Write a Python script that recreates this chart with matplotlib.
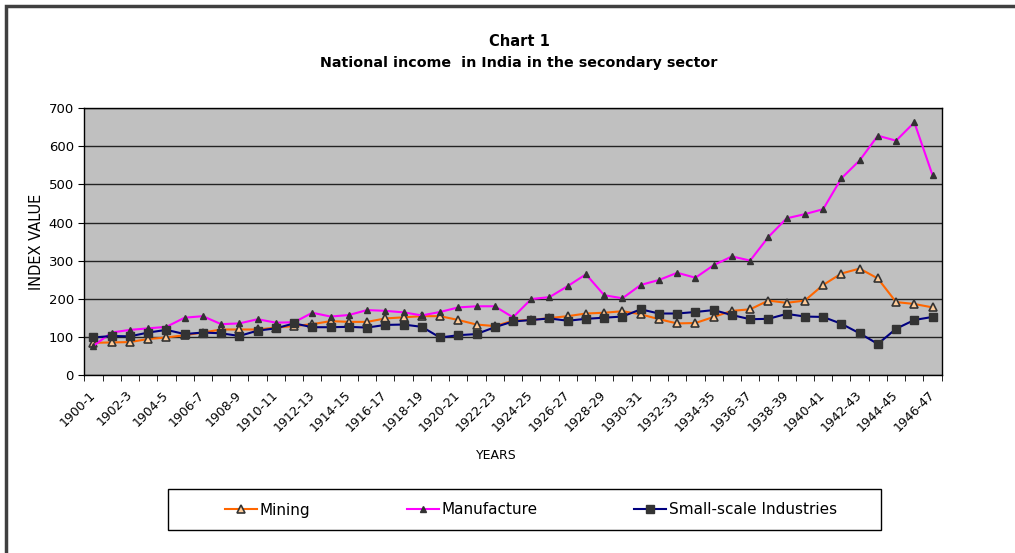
import numpy as np
import matplotlib.pyplot as plt
from matplotlib.patches import Rectangle
from matplotlib.transforms import ScaledTranslation

plt.rcParams['font.family'] = ['DejaVu Sans']

# Datos
anios = [f"{a}-{(a + 1) % 100}" for a in range(1900, 1947)]

mineria = [84, 85, 86, 94, 98, 104, 111, 119, 119, 119, 124, 128, 133, 141, 139, 139,
           148, 151, 154, 154, 144, 132, 128, 142, 144, 149, 154, 161, 163, 167, 159, 146,
           135, 136, 152, 168, 172, 195, 189, 195, 236, 266, 279, 253, 191, 186, 177]

manufactura = [76, 111, 118, 122, 126, 150, 154, 133, 135, 146, 137, 138, 163, 153, 157, 170,
               168, 164, 156, 165, 177, 180, 180, 151, 199, 204, 233, 264, 209, 201, 236, 249,
               268, 255, 288, 311, 300, 362, 411, 422, 435, 516, 563, 628, 615, 663, 524]

pequena_escala = [98, 102, 101, 111, 118, 107, 111, 109, 102, 116, 122, 135, 125, 125, 126, 124,
                  131, 132, 126, 98, 104, 107, 125, 140, 144, 148, 142, 147, 150, 153, 172, 161,
                  161, 165, 170, 157, 146, 147, 160, 153, 152, 134, 109, 81, 121, 144, 152]

fig = plt.figure(figsize=(10.15, 5.53), dpi=100)

# Marco exterior del grafico
fig.patches.append(Rectangle((6 / 1015, -0.1), 1.2, 1 - 6 / 553 + 0.1, transform=fig.transFigure,
                             fill=False, edgecolor='#404040', linewidth=2.5))

ax = fig.add_axes([84.3 / 1015, 1 - 374.8 / 553, (941.7 - 84.3) / 1015, (374.8 - 108.3) / 553])
ax.set_facecolor('#C0C0C0')

x = np.arange(len(anios))
ax.plot(x, mineria, color='#FF6600', lw=1.5, marker='^', ms=5.5, mfc='#FFCC99',
        mec='#333333', mew=1.2, label='Mining')
ax.plot(x, manufactura, color='#FF00FF', lw=1.5, marker='^', ms=4, mfc='#333333',
        mec='#333333', label='Manufacture')
ax.plot(x, pequena_escala, color='#000080', lw=1.5, marker='s', ms=6, mfc='#333333',
        mec='#333333', label='Small-scale Industries')

ax.set_xlim(-0.5, len(anios) - 0.5)
ax.set_ylim(0, 700)
ax.set_yticks(range(0, 701, 100))
ax.yaxis.grid(True, color='#222222', lw=1)
ax.set_axisbelow(True)

ax.set_xticks(x[::2])
ax.set_xticklabels(anios[::2], rotation=45, ha='right', va='center',
                   rotation_mode='anchor', fontsize=9)
desplazamiento = ScaledTranslation(-7 / 100, 0, fig.dpi_scale_trans)
for etiqueta in ax.get_xticklabels():
    etiqueta.set_transform(etiqueta.get_transform() + desplazamiento)
ax.set_xticks(np.arange(-0.5, len(anios), 1), minor=True)
ax.tick_params(axis='x', which='major', length=0, pad=13)
ax.tick_params(axis='x', which='minor', length=4, direction='out', color='black')
ax.tick_params(axis='y', length=4, direction='out', labelsize=9.5)
for s in ax.spines.values():
    s.set_color('black')
    s.set_linewidth(1)

ax.set_xlabel('YEARS', fontsize=9, va='center')
ax.xaxis.set_label_coords(0.481, -0.301)
ax.set_ylabel('INDEX VALUE', fontsize=10.5, va='center')
ax.yaxis.set_label_coords(-0.0552, 0.498)

fig.text(519 / 1015, 1 - 41 / 553, 'Chart 1', ha='center', va='center',
         fontsize=10.5, fontweight='bold')
fig.text(519 / 1015, 1 - 63 / 553, 'National income  in India in the secondary sector',
         ha='center', va='center', fontsize=10.3, fontweight='bold')

# Caja de la leyenda
fig.patches.append(Rectangle((168 / 1015, 1 - 530 / 553), (881 - 168) / 1015, 41 / 553,
                             transform=fig.transFigure, fill=False, edgecolor='black', lw=1))
fig.legend(loc='center', ncol=3, fontsize=11, frameon=False,
           bbox_to_anchor=(531 / 1015, 1 - 510 / 553), bbox_transform=fig.transFigure,
           handlelength=2.1, handletextpad=0.2, columnspacing=6.3)

plt.savefig('out.png', dpi=100)
